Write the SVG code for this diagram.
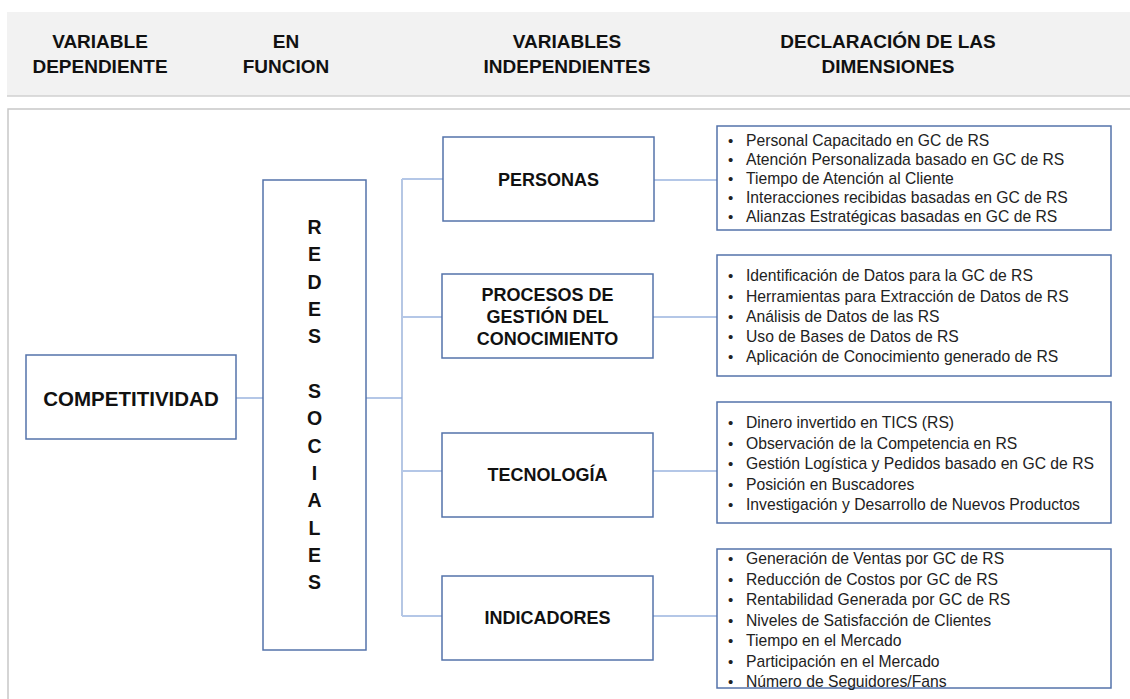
<svg xmlns="http://www.w3.org/2000/svg" width="1130" height="699" viewBox="0 0 1130 699">
<style>
.hd{font-family:"Liberation Sans",Arial,sans-serif;font-weight:bold;font-size:19px;fill:#111;text-anchor:middle}
.nb{font-family:"Liberation Sans",Arial,sans-serif;font-weight:bold;font-size:18px;fill:#111;text-anchor:middle}
.box{fill:#fff;stroke:#5473aa;stroke-width:1.5}
.li{font-family:"Liberation Sans",Arial,sans-serif;font-size:15.7px;fill:#222}
.bu{font-family:"Liberation Sans",Arial,sans-serif;font-size:15px;fill:#222}
.cn{stroke:#b4c7e7;stroke-width:2;fill:none}
.tr{stroke:#8ea9d6;stroke-width:1.3;fill:none}
</style>
<rect width="1130" height="699" fill="#fff"/>
<g id="header">
<rect x="7" y="12" width="1123" height="84" fill="#f2f2f2"/>
<line x1="7" y1="96" x2="1130" y2="96" stroke="#d0d0d0" stroke-width="1.5"/>
<text class="hd" x="100" y="48">VARIABLE</text>
<text class="hd" x="100" y="73">DEPENDIENTE</text>
<text class="hd" x="286" y="48">EN</text>
<text class="hd" x="286" y="73">FUNCION</text>
<text class="hd" x="567" y="48">VARIABLES</text>
<text class="hd" x="567" y="73">INDEPENDIENTES</text>
<text class="hd" x="888" y="48">DECLARACIÓN DE LAS</text>
<text class="hd" x="888" y="73">DIMENSIONES</text>
</g>
<g id="panel">
<path d="M1130 109 H8 V699" fill="none" stroke="#c8c8c8" stroke-width="1.5"/>
</g>
<g id="connectors">
<line class="cn" x1="236" y1="398" x2="263" y2="398"/>
<line class="cn" x1="366" y1="398" x2="402" y2="398"/>
<line class="tr" x1="402" y1="179" x2="402" y2="616"/>
<line class="cn" x1="402" y1="179" x2="443" y2="179"/>
<line class="cn" x1="402" y1="317" x2="442" y2="317"/>
<line class="cn" x1="402" y1="471" x2="442" y2="471"/>
<line class="cn" x1="402" y1="616" x2="442" y2="616"/>
<line class="cn" x1="654" y1="180" x2="717" y2="180"/>
<line class="cn" x1="653" y1="317" x2="717" y2="317"/>
<line class="cn" x1="653" y1="471" x2="717" y2="471"/>
<line class="cn" x1="653" y1="616" x2="717" y2="616"/>
</g>
<g id="competitividad">
<rect class="box" x="26" y="355" width="210" height="84"/>
<text class="nb" x="131" y="406" style="font-size:20.5px">COMPETITIVIDAD</text>
</g>
<g id="redes-sociales">
<rect class="box" x="263" y="180" width="103" height="470"/>
<g class="nb" style="font-size:19.5px">
<text x="314.5" y="234">R</text>
<text x="314.5" y="261.3">E</text>
<text x="314.5" y="288.6">D</text>
<text x="314.5" y="316">E</text>
<text x="314.5" y="343.3">S</text>
<text x="314.5" y="398">S</text>
<text x="314.5" y="425.3">O</text>
<text x="314.5" y="452.6">C</text>
<text x="314.5" y="480">I</text>
<text x="314.5" y="507.3">A</text>
<text x="314.5" y="534.6">L</text>
<text x="314.5" y="562">E</text>
<text x="314.5" y="589.3">S</text>
</g>
</g>
<g id="personas">
<rect class="box" x="443" y="137" width="211" height="84"/>
<text class="nb" x="548.5" y="186">PERSONAS</text>
</g>
<g id="procesos">
<rect class="box" x="442" y="274" width="211" height="84"/>
<text class="nb" x="547.5" y="301">PROCESOS DE</text>
<text class="nb" x="547.5" y="322.5">GESTIÓN DEL</text>
<text class="nb" x="547.5" y="344.5">CONOCIMIENTO</text>
</g>
<g id="tecnologia">
<rect class="box" x="442" y="433" width="211" height="84"/>
<text class="nb" x="547.5" y="481">TECNOLOGÍA</text>
</g>
<g id="indicadores">
<rect class="box" x="442" y="576" width="211" height="84"/>
<text class="nb" x="547.5" y="624">INDICADORES</text>
</g>
<g id="dim-personas">
<rect class="box" x="717" y="126" width="394" height="104"/>
<g class="bu"><text x="728" y="146">•</text><text x="728" y="165">•</text><text x="728" y="184">•</text><text x="728" y="203">•</text><text x="728" y="222">•</text></g>
<text class="li" x="746" y="146">Personal Capacitado en GC de RS</text>
<text class="li" x="746" y="165">Atención Personalizada basado en GC de RS</text>
<text class="li" x="746" y="184">Tiempo de Atención al Cliente</text>
<text class="li" x="746" y="203">Interacciones recibidas basadas en GC de RS</text>
<text class="li" x="746" y="222">Alianzas Estratégicas basadas en GC de RS</text>
</g>
<g id="dim-procesos">
<rect class="box" x="717" y="255" width="394" height="121"/>
<g class="bu"><text x="728" y="281">•</text><text x="728" y="301.5">•</text><text x="728" y="322">•</text><text x="728" y="342">•</text><text x="728" y="362">•</text></g>
<text class="li" x="746" y="281">Identificación de Datos para la GC de RS</text>
<text class="li" x="746" y="301.5">Herramientas para Extracción de Datos de RS</text>
<text class="li" x="746" y="322">Análisis de Datos de las RS</text>
<text class="li" x="746" y="342">Uso de Bases de Datos de RS</text>
<text class="li" x="746" y="362">Aplicación de Conocimiento generado de RS</text>
</g>
<g id="dim-tecnologia">
<rect class="box" x="717" y="402" width="394" height="121"/>
<g class="bu"><text x="728" y="428">•</text><text x="728" y="448.5">•</text><text x="728" y="469">•</text><text x="728" y="489.5">•</text><text x="728" y="510">•</text></g>
<text class="li" x="746" y="428">Dinero invertido en TICS (RS)</text>
<text class="li" x="746" y="448.5">Observación de la Competencia en RS</text>
<text class="li" x="746" y="469">Gestión Logística y Pedidos basado en GC de RS</text>
<text class="li" x="746" y="489.5">Posición en Buscadores</text>
<text class="li" x="746" y="510">Investigación y Desarrollo de Nuevos Productos</text>
</g>
<g id="dim-indicadores">
<rect class="box" x="717" y="549" width="394" height="139"/>
<g class="bu"><text x="728" y="564">•</text><text x="728" y="584.5">•</text><text x="728" y="605">•</text><text x="728" y="625.5">•</text><text x="728" y="646">•</text><text x="728" y="666.5">•</text><text x="728" y="687">•</text></g>
<text class="li" x="746" y="564">Generación de Ventas por GC de RS</text>
<text class="li" x="746" y="584.5">Reducción de Costos por GC de RS</text>
<text class="li" x="746" y="605">Rentabilidad Generada por GC de RS</text>
<text class="li" x="746" y="625.5">Niveles de Satisfacción de Clientes</text>
<text class="li" x="746" y="646">Tiempo en el Mercado</text>
<text class="li" x="746" y="666.5">Participación en el Mercado</text>
<text class="li" x="746" y="687">Número de Seguidores/Fans</text>
</g>
</svg>
